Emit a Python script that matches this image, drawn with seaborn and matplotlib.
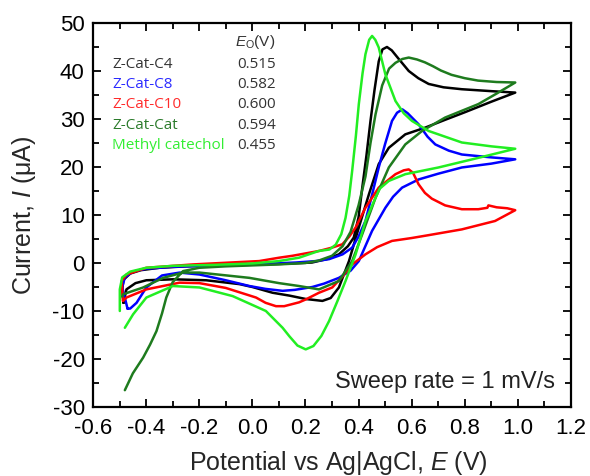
import numpy as np
import pandas as pd
import matplotlib
matplotlib.use("Agg")
import matplotlib.pyplot as plt
import seaborn as sns
from matplotlib.ticker import MultipleLocator

# ---------------- data ----------------
samples = ["Z-Cat-C4", "Z-Cat-C8", "Z-Cat-C10", "Z-Cat-Cat", "Methyl catechol"]
eo_values = ["0.515", "0.582", "0.600", "0.594", "0.455"]
line_colors = ["#000000", "#0000ff", "#ff0000", "#1e7b1e", "#22ee22"]
text_colors = ["#333333", "#2b2bff", "#ff2b2b", "#2a7a2a", "#33ee33"]

c4_v = [-0.485, -0.49, -0.485, -0.46, -0.42, -0.35, -0.25, -0.10, 0.05, 0.15, 0.225, 0.28, 0.326, 0.36,
        0.382, 0.40, 0.414, 0.43, 0.445, 0.46, 0.476, 0.49, 0.507, 0.525, 0.55, 0.589, 0.625, 0.664,
        0.72, 0.789, 0.90, 0.99,
        0.90, 0.80, 0.72, 0.651, 0.576, 0.514, 0.476, 0.439, 0.401, 0.364, 0.326, 0.295, 0.264, 0.201,
        0.14, 0.076, 0.0, -0.049, -0.174, -0.299, -0.399, -0.44, -0.474, -0.485]
c4_i = [-8.3, -5.5, -3.5, -2.2, -1.5, -1.0, -0.7, -0.5, -0.3, -0.1, 0.1, 0.8, 1.8, 3.5,
        5.3, 9.5, 15.7, 22.5, 29.6, 36.0, 42.0, 44.5, 45.0, 44.3, 42.6, 40.0, 38.5, 37.3,
        36.6, 36.2, 35.8, 35.5,
        33.6, 31.4, 29.7, 28.2, 26.8, 24.0, 20.6, 14.3, 7.4, 0.4, -5.1, -7.3, -7.9, -7.5,
        -6.8, -6.2, -5.0, -4.4, -3.6, -3.4, -3.6, -4.2, -5.5, -8.3]

c8_v = [-0.47, -0.49, -0.48, -0.45, -0.40, -0.30, -0.15, 0.0, 0.164, 0.24, 0.289, 0.34, 0.376, 0.40,
        0.426, 0.45, 0.476, 0.50, 0.526, 0.545, 0.565, 0.585, 0.626, 0.66, 0.689, 0.74, 0.789, 0.90, 0.99,
        0.90, 0.789, 0.70, 0.626, 0.564, 0.53, 0.501, 0.451, 0.401, 0.37, 0.326, 0.27, 0.226, 0.16,
        0.114, 0.05, -0.011, -0.10, -0.199, -0.274, -0.34, -0.399, -0.436, -0.46, -0.47]
c8_i = [-9.5, -5.0, -3.0, -1.8, -1.2, -0.8, -0.5, -0.3, 0.1, 0.4, 0.8, 1.8, 3.2, 5.5,
        8.75, 14.0, 19.9, 24.8, 29.6, 31.3, 32.0, 31.2, 28.9, 26.3, 24.7, 23.4, 22.6, 22.0, 21.6,
        20.7, 19.9, 18.6, 17.4, 15.7, 13.8, 11.5, 6.7, 0.4, -1.6, -3.1, -4.3, -5.0, -5.6,
        -5.8, -5.4, -4.8, -3.6, -2.4, -2.0, -2.6, -5.1, -8.3, -9.5, -9.5]

c10_v = [-0.487, -0.492, -0.474, -0.399, -0.224, 0.026, 0.101, 0.151, 0.251, 0.30, 0.339, 0.365, 0.389,
         0.426, 0.476, 0.539, 0.57, 0.589, 0.605, 0.626, 0.65, 0.676, 0.726, 0.789, 0.851, 0.885, 0.889,
         0.92, 0.96, 0.99,
         0.914, 0.789, 0.664, 0.60, 0.526, 0.47, 0.426, 0.376, 0.34, 0.301, 0.251, 0.201, 0.176, 0.12,
         0.089, 0.05, 0.014, -0.10, -0.199, -0.274, -0.399, -0.474, -0.487]
c10_i = [-7.9, -3.75, -2.4, -1.0, -0.3, 0.4, 1.1, 1.5, 2.5, 3.2, 3.9, 5.5, 7.4,
         11.5, 15.7, 18.5, 19.3, 19.5, 18.8, 16.4, 14.6, 13.4, 12.0, 11.2, 11.2, 11.5, 12.0,
         11.6, 11.4, 11.0,
         8.75, 7.0, 5.8, 5.2, 4.6, 3.3, 1.8, -0.3, -2.8, -5.1, -6.2, -7.6, -8.2, -9.0,
         -9.0, -8.3, -7.2, -5.2, -4.2, -4.1, -5.5, -7.2, -7.9]

cat_v = [-0.48, -0.45, -0.411, -0.385, -0.361, -0.34, -0.324, -0.30, -0.261, -0.20, -0.10, 0.0, 0.10,
         0.20, 0.25, 0.30, 0.34, 0.37, 0.40, 0.426, 0.445, 0.464, 0.489, 0.515, 0.539, 0.565, 0.589,
         0.62, 0.65, 0.68, 0.71, 0.75, 0.80, 0.85, 0.92, 0.99,
         0.92, 0.851, 0.726, 0.639, 0.576, 0.514, 0.464, 0.414, 0.376, 0.326, 0.251, 0.176, 0.101,
         -0.011, -0.199, -0.261, -0.336, -0.411, -0.486, -0.49]
cat_i = [-26.5, -23.0, -19.7, -17.0, -14.2, -10.5, -7.2, -4.0, -1.7, -1.0, -0.7, -0.5, -0.3,
         0.0, 0.5, 1.5, 3.5, 6.5, 12.0, 18.0, 25.0, 31.0, 37.0, 40.5, 41.7, 42.5, 42.8,
         42.4, 41.8, 41.0, 40.1, 39.2, 38.5, 38.0, 37.7, 37.6,
         35.3, 33.1, 30.3, 27.5, 24.7, 19.9, 13.6, 6.0, 0.4, -3.75, -5.5, -4.8, -4.2,
         -3.1, -2.0, -2.0, -3.1, -5.1, -6.5, -7.0]

mc_v = [-0.499, -0.499, -0.49, -0.46, -0.40, -0.30, -0.15, 0.0, 0.10, 0.176, 0.25, 0.29, 0.314, 0.335,
        0.351, 0.365, 0.376, 0.39, 0.401, 0.415, 0.426, 0.44, 0.451, 0.463, 0.476, 0.501, 0.539, 0.57,
        0.601, 0.664, 0.789, 0.90, 0.99,
        0.851, 0.701, 0.576, 0.514, 0.48, 0.464, 0.426, 0.389, 0.351, 0.32, 0.289, 0.26, 0.23, 0.201,
        0.17, 0.14, 0.114, 0.051, -0.074, -0.199, -0.299, -0.399, -0.449, -0.48]
mc_i = [-10.0, -5.5, -3.0, -1.8, -1.0, -0.6, -0.4, -0.1, 0.4, 1.1, 2.5, 2.8, 3.8, 6.0,
        9.4, 14.0, 19.2, 26.5, 33.1, 39.5, 43.5, 46.5, 47.3, 46.5, 44.9, 39.3, 33.75, 31.2,
        29.6, 27.5, 25.1, 24.3, 23.8,
        21.9, 19.9, 18.5, 17.1, 15.5, 13.6, 8.75, 1.8, -3.75, -8.0, -12.1, -15.2, -17.3, -18.0,
        -17.2, -15.3, -13.5, -10.0, -6.9, -5.1, -4.8, -7.2, -10.7, -13.5]

x_ticks = [-0.6, -0.4, -0.2, 0.0, 0.2, 0.4, 0.6, 0.8, 1.0, 1.2]
y_ticks = [-30, -20, -10, 0, 10, 20, 30, 40, 50]

# ---------------- build table ----------------
series = [(c4_v, c4_i), (c8_v, c8_i), (c10_v, c10_i), (cat_v, cat_i), (mc_v, mc_i)]
frames = []
for name, (v, i) in zip(samples, series):
    frames.append(pd.DataFrame({"E": v, "I": i, "sample": name, "step": np.arange(len(v))}))
df = pd.concat(frames, ignore_index=True)

# ---------------- style ----------------
sns.set_style("ticks")
plt.rcParams["font.family"] = ["Liberation Sans", "DejaVu Sans"]
plt.rcParams["axes.unicode_minus"] = False
plt.rcParams["mathtext.fontset"] = "custom"
plt.rcParams["mathtext.rm"] = "Liberation Sans"
plt.rcParams["mathtext.it"] = "Liberation Sans:italic"

fig = plt.figure(figsize=(5.9, 4.76), dpi=100)
ax = fig.add_axes([0.1576, 0.145, 0.8102, 0.8067])

sns.lineplot(data=df, x="E", y="I", hue="sample", hue_order=samples,
             palette=dict(zip(samples, line_colors)), sort=False, estimator=None,
             legend=False, linewidth=1.8, ax=ax)

ax.set_xlim(-0.6, 1.2)
ax.set_ylim(-30, 50)
ax.set_xticks(x_ticks)
ax.set_xticklabels([f"{t:.1f}" for t in x_ticks])
ax.set_yticks(y_ticks)
ax.set_yticklabels([str(t) for t in y_ticks])
ax.xaxis.set_minor_locator(MultipleLocator(0.1))
ax.yaxis.set_minor_locator(MultipleLocator(5))
ax.tick_params(which="both", direction="in", top=True, right=True, width=1.3, colors="black")
ax.tick_params(which="major", length=6, labelsize=16)
ax.tick_params(which="minor", length=4)
ax.tick_params(axis="x", which="major", pad=8)
ax.tick_params(axis="y", which="major", pad=6)
for s in ax.spines.values():
    s.set_linewidth(1.6)
    s.set_color("black")

ax.set_xlabel("Potential vs Ag|AgCl, $\\mathit{E}$ (V)", fontsize=18)
ax.set_ylabel("Current, $\\mathit{I}$ (μA)", fontsize=18)
ax.xaxis.set_label_coords(0.513, -0.11)
ax.yaxis.set_label_coords(-0.115, 0.5)

# legend-like annotation
ax.text(0.298, 0.95, "$E_\\mathrm{O}$(V)", transform=ax.transAxes, fontsize=11,
        color="#333333", va="center", ha="left")
ys = [0.893, 0.841, 0.787, 0.734, 0.680]
for name, val, col, y in zip(samples, eo_values, text_colors, ys):
    ax.text(0.04, y, name, transform=ax.transAxes, fontsize=11, color=col,
            va="center", ha="left", family=["Open Sans", "DejaVu Sans"])
    ax.text(0.301, y, val, transform=ax.transAxes, fontsize=11, color="#333333",
            va="center", ha="left", family=["Open Sans", "DejaVu Sans"])

ax.text(0.967, 0.065, "Sweep rate = 1 mV/s", transform=ax.transAxes, fontsize=17,
        color="#222222", va="center", ha="right")

fig.savefig("out.png", dpi=100)
